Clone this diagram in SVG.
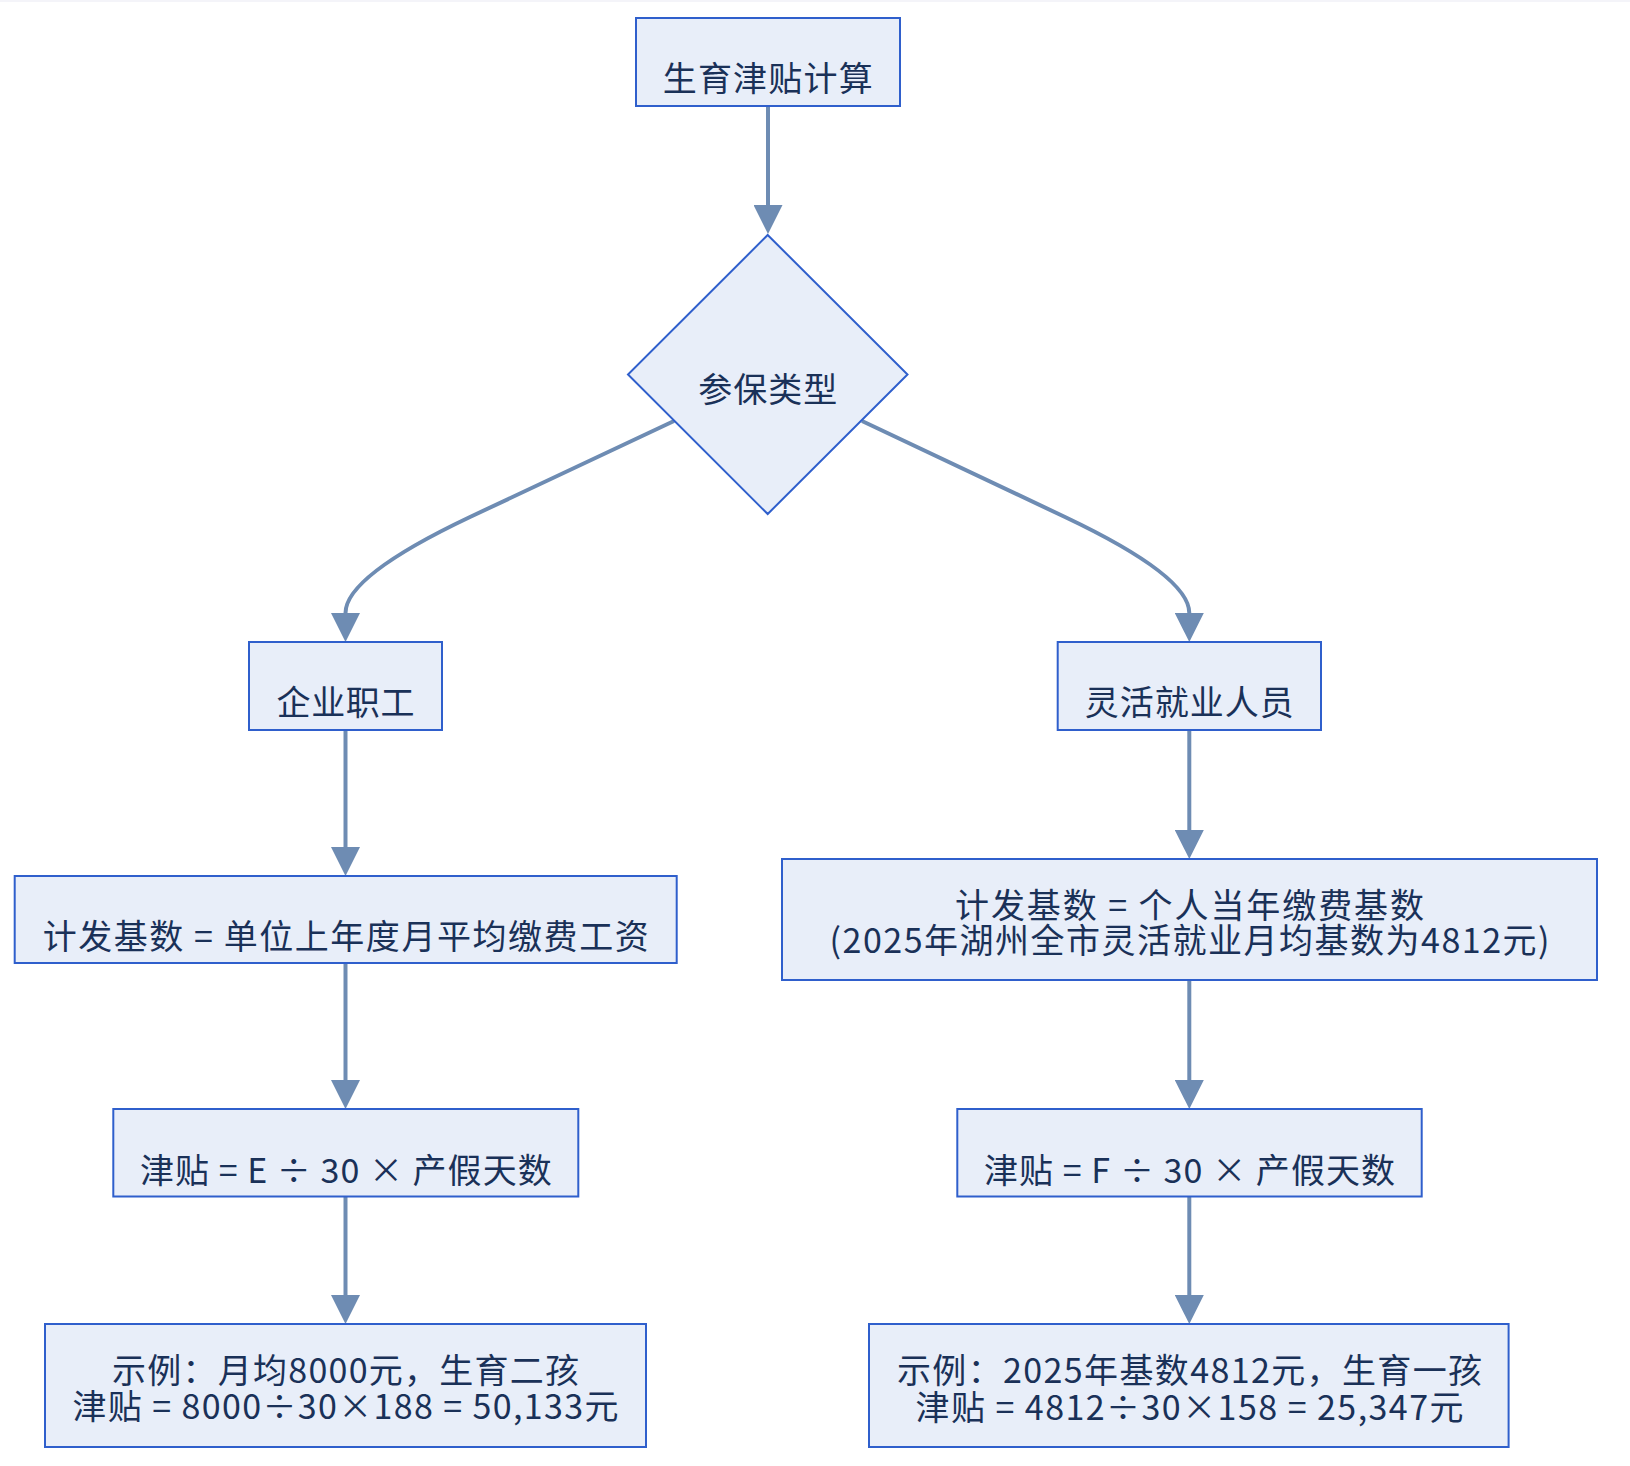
<svg xmlns="http://www.w3.org/2000/svg" width="1630" height="1466" viewBox="0 0 1630 1466">
<style>
  .node rect, .node polygon { fill: #e8eef9; stroke: #2f5fcc; stroke-width: 2; }
  .node text { font-family: "Noto Sans CJK SC", "Noto Sans", sans-serif; font-size: 34px; fill: #1a3158; text-anchor: middle; }
  .edges path { fill: none; stroke: #6e8cb3; stroke-width: 4; marker-end: url(#arrow); }
</style>
<defs>
  <marker id="arrow" markerUnits="userSpaceOnUse" markerWidth="29" markerHeight="29" viewBox="0 0 10 10" refX="0" refY="5" orient="auto">
    <path d="M0,0 L10,5 L0,10 z" fill="#6e8cb3"/>
  </marker>
</defs>
<rect x="0" y="0" width="1630" height="1466" fill="#ffffff"/>
<rect x="0" y="0" width="1630" height="2" fill="#f4f4f9"/>

<g class="edges">
  <path d="M768,106 L768,205"/>
  <path d="M674,421 L470,517 Q345.5,576 345.5,613"/>
  <path d="M862,421 L1065,517 Q1189.3,576 1189.3,613"/>
  <path d="M345.5,730 L345.5,847"/>
  <path d="M1189.3,730 L1189.3,830"/>
  <path d="M345.5,963 L345.5,1080"/>
  <path d="M1189.3,980 L1189.3,1080"/>
  <path d="M345.5,1197 L345.5,1295"/>
  <path d="M1189.3,1197 L1189.3,1295"/>
</g>

<g id="A" class="node">
  <rect x="636" y="18" width="264" height="88"/>
  <text x="767.7" y="91" textLength="210" lengthAdjust="spacing">生育津贴计算</text>
</g>
<g id="B" class="node">
  <polygon points="767.7,235 907.5,374.5 767.7,514 628,374.5"/>
  <text x="767.7" y="402" textLength="139" lengthAdjust="spacing">参保类型</text>
</g>
<g id="C" class="node">
  <rect x="249" y="642" width="193" height="88"/>
  <text x="345.5" y="715" textLength="138" lengthAdjust="spacing">企业职工</text>
</g>
<g id="D" class="node">
  <rect x="1057.7" y="642" width="263.3" height="88"/>
  <text x="1189.3" y="715" textLength="209" lengthAdjust="spacing">灵活就业人员</text>
</g>
<g id="E" class="node">
  <rect x="14.7" y="876" width="662" height="87"/>
  <text x="345.7" y="949" textLength="606" lengthAdjust="spacing">计发基数 = 单位上年度月平均缴费工资</text>
</g>
<g id="F" class="node">
  <rect x="782" y="859" width="815" height="121"/>
  <text><tspan x="1189.5" y="917.5" textLength="469" lengthAdjust="spacing">计发基数 = 个人当年缴费基数</tspan><tspan x="1189.5" y="952.5" textLength="720" lengthAdjust="spacing">(2025年湖州全市灵活就业月均基数为4812元)</tspan></text>
</g>
<g id="G" class="node">
  <rect x="113.3" y="1109" width="465" height="87.5"/>
  <text x="345.8" y="1183" textLength="411.7" lengthAdjust="spacing">津贴 = E ÷ 30 × 产假天数</text>
</g>
<g id="H" class="node">
  <rect x="957.3" y="1109" width="464.4" height="87.5"/>
  <text x="1189.5" y="1183" textLength="411" lengthAdjust="spacing">津贴 = F ÷ 30 × 产假天数</text>
</g>
<g id="I" class="node">
  <rect x="45" y="1324" width="601" height="123"/>
  <text><tspan x="345.5" y="1383" textLength="467" lengthAdjust="spacing">示例：月均8000元，生育二孩</tspan><tspan x="345.5" y="1419" textLength="546" lengthAdjust="spacing">津贴 = 8000÷30×188 = 50,133元</tspan></text>
</g>
<g id="J" class="node">
  <rect x="869" y="1324" width="639.6" height="123"/>
  <text><tspan x="1189.5" y="1383" textLength="585" lengthAdjust="spacing">示例：2025年基数4812元，生育一孩</tspan><tspan x="1189.5" y="1420" textLength="548" lengthAdjust="spacing">津贴 = 4812÷30×158 = 25,347元</tspan></text>
</g>
</svg>
